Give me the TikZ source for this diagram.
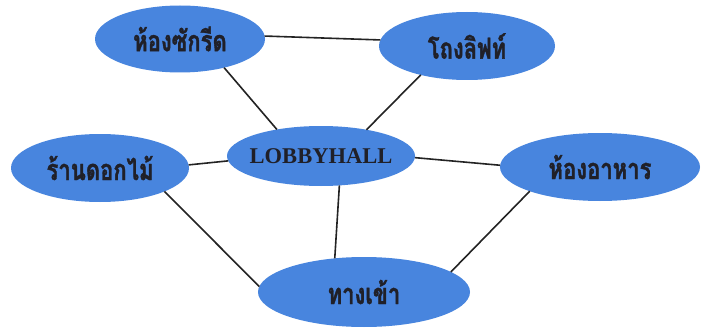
\documentclass[tikz,border=0pt]{standalone}
\usepackage{fontspec}
\setmainfont{Liberation Serif}
\newfontfamily\thaifont[Script=Thai,FakeStretch=0.76,FakeBold=1.2]{Loma}
\usetikzlibrary{shapes.geometric}
\definecolor{bubble}{RGB}{72,133,222}
\definecolor{ink}{RGB}{32,32,40}
\definecolor{wire}{RGB}{35,35,35}
\tikzset{
  room/.style={ellipse, fill=bubble, draw=none, inner xsep=-6pt, inner ysep=0pt, outer sep=0pt,
    text=ink, font=\thaifont\bfseries\fontsize{29}{32}\selectfont},
  link/.style={draw=wire, line width=1.6pt}
}
\begin{document}
\begin{tikzpicture}[x=1pt,y=-1pt]
\useasboundingbox (0,0) rectangle (702,329);
\fill[white] (0,0) rectangle (702,329);
\node[room, minimum width=170pt, minimum height=67pt] (A) at (180,39) {ห้องซักรีด};
\node[room, minimum width=176pt, minimum height=68pt] (B) at (467,46) {โถงลิฟท์};
\node[room, minimum width=178pt, minimum height=68pt] (C) at (100,168) {ร้านดอกไม้};
\node[room, minimum width=188pt, minimum height=60pt, font=\bfseries\fontsize{22.5}{25}\selectfont] (L) at (321,156) {LOBBYHALL};
\node[room, minimum width=200pt, minimum height=68pt] (D) at (600,167) {ห้องอาหาร};
\node[room, minimum width=212pt, minimum height=70pt] (E) at (364,292) {ทางเข้า};
\draw[link] (A.2) -- (B.176);
\draw[link] (A.-33) -- (L.149);
\draw[link] (B.212) -- (L.30);
\draw[link] (C.2) -- (L.183);
\draw[link] (L.-1) -- (D.179);
\draw[link] (L.-58) -- (E.131);
\draw[link] (C.-20) -- (E.177);
\draw[link] (D.199) -- (E.13);
\end{tikzpicture}
\end{document}
